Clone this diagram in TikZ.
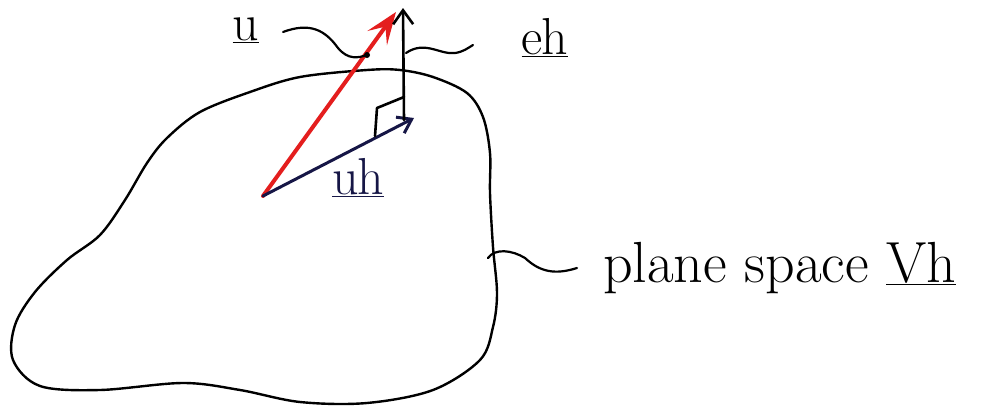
\documentclass[tikz,border=0pt]{standalone}
\usetikzlibrary{arrows.meta}
\definecolor{penred}{RGB}{228,30,30}
\definecolor{pennavy}{RGB}{22,22,70}
\begin{document}
\begin{tikzpicture}[x=1pt,y=-1pt,
  pen/.style={line width=2.6pt,line cap=round,line join=round},
  lbl/.style={font=\fontsize{52}{56}\selectfont,inner sep=0pt,anchor=base},
  lead/.style={line width=2.2pt,line cap=round}]
\useasboundingbox (0,0) rectangle (986,407);
\fill[white] (0,0) rectangle (986,407);
% blob (plane space)
\draw[pen,line width=2.4pt] plot[smooth cycle,tension=0.55] coordinates{
 (400,70) (367,70) (300,77) (250,92) (200,112) (167,138) (147,163) (125,200)
 (100,235) (67,260) (35,292) (15,325) (13,360) (40,386) (100,390) (183,383)
 (240,390) (300,402) (367,403) (433,390) (480,360) (493,327) (497,293)
 (493,247) (490,193) (490,153) (483,117) (467,93) (433,77)};
% points
\coordinate (O) at (263,196);
\coordinate (Ut) at (396,12);
\coordinate (Uht) at (414,118);
\coordinate (Et) at (403,8);
\coordinate (Eb) at (404,120);
% vectors
\draw[pen,penred,line width=4pt,-{Stealth[length=32pt,width=24pt,inset=14pt]}] (O) -- (Ut);
\draw[pen,pennavy,line width=3pt,-{Straight Barb[length=13pt,width=18pt]}] (O) -- (Uht);
\draw[pen,-{Straight Barb[length=14pt,width=20pt]}] (Eb) -- (Et);
% right angle marker
\draw[pen] (375,136) -- (377,108) -- (404,97);
% labels
\node[lbl] (u) at (246,40) {\underline{u}};
\node[lbl] (eh) at (545,54) {\underline{e\kern-1pt h}};
\node[lbl,pennavy] (uh) at (358,194) {\underline{u\kern-2pt h}};
\node[lbl,anchor=base west,font=\fontsize{58}{62}\selectfont] (vh) at (603,282) {plane space \underline{Vh}};
% leaders
\coordinate (ua) at (283,32);
\coordinate (ub) at (367,55);
\draw[lead] (ua) .. controls (310,22) and (325,30) .. (338,48) .. controls (348,60) and (358,58) .. (ub);
\fill (ub) circle (3pt);
\coordinate (ea) at (406,53);
\coordinate (eb) at (473,45);
\draw[lead] (ea) .. controls (425,40) and (440,55) .. (455,53) .. controls (463,52) and (468,48) .. (eb);
\coordinate (va) at (488,258);
\coordinate (vb) at (577,268);
\draw[lead] (va) .. controls (495,248) and (512,250) .. (525,258) .. controls (540,272) and (555,275) .. (vb);
\end{tikzpicture}
\end{document}
